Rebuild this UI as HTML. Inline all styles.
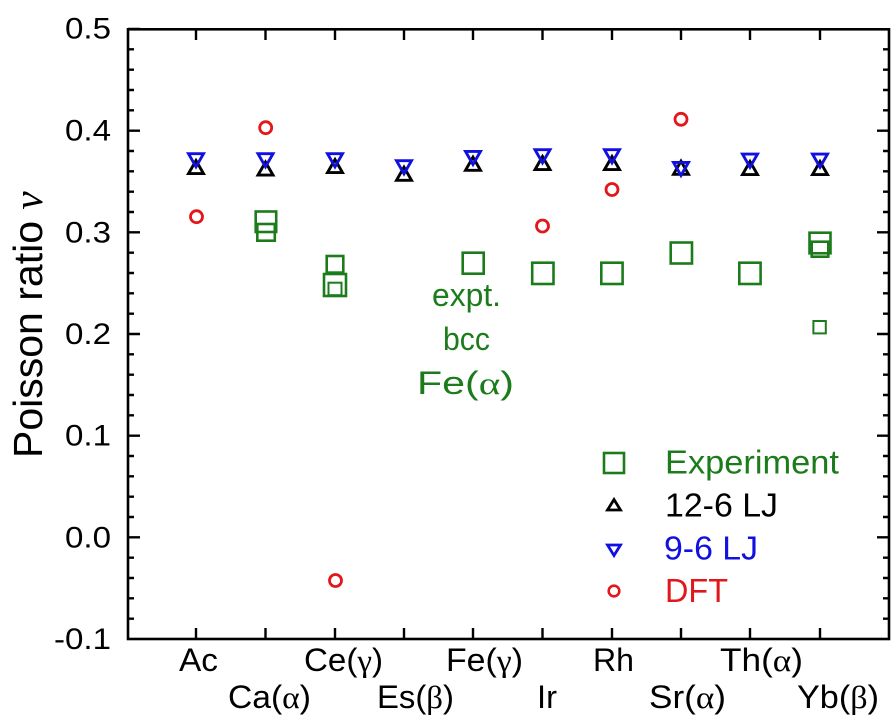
<!DOCTYPE html>
<html>
<head>
<meta charset="utf-8">
<style>
html,body{margin:0;padding:0;background:#fff;}
svg{display:block;}
text{font-family:"Liberation Sans",Arial,sans-serif;}
.g{font-family:"Liberation Serif",serif;}
</style>
</head>
<body>
<svg width="891" height="717" viewBox="0 0 891 717" xmlns="http://www.w3.org/2000/svg">
<rect width="891" height="717" fill="#fff"/>

<!-- axes frame -->
<rect x="128" y="29.3" width="761" height="609.7" fill="none" stroke="#000" stroke-width="2.6"/>

<!-- left ticks -->
<path stroke="#000" stroke-width="2.4" fill="none" d="
M128 29h12 M128 49.33h6 M128 69.67h6 M128 90h6 M128 110.33h6
M128 130.67h12 M128 151h6 M128 171.33h6 M128 191.67h6 M128 212h6
M128 232.33h12 M128 252.67h6 M128 273h6 M128 293.33h6 M128 313.67h6
M128 334h12 M128 354.33h6 M128 374.67h6 M128 395h6 M128 415.33h6
M128 435.67h12 M128 456h6 M128 476.33h6 M128 496.67h6 M128 517h6
M128 537.33h12 M128 557.67h6 M128 578h6 M128 598.33h6 M128 618.67h6
"/>
<!-- right ticks -->
<path stroke="#000" stroke-width="2.4" fill="none" d="
M889 49.33h-6 M889 69.67h-6 M889 90h-6 M889 110.33h-6
M889 130.67h-12 M889 151h-6 M889 171.33h-6 M889 191.67h-6 M889 212h-6
M889 232.33h-12 M889 252.67h-6 M889 273h-6 M889 293.33h-6 M889 313.67h-6
M889 334h-12 M889 354.33h-6 M889 374.67h-6 M889 395h-6 M889 415.33h-6
M889 435.67h-12 M889 456h-6 M889 476.33h-6 M889 496.67h-6 M889 517h-6
M889 537.33h-12 M889 557.67h-6 M889 578h-6 M889 598.33h-6 M889 618.67h-6
"/>
<!-- top & bottom ticks -->
<path stroke="#000" stroke-width="2.4" fill="none" d="
M196 29v11 M265.5 29v11 M335 29v11 M404 29v11 M473 29v11 M542.5 29v11 M612 29v11 M681 29v11 M750 29v11 M820 29v11
M196 639v-11 M265.5 639v-11 M335 639v-11 M404 639v-11 M473 639v-11 M542.5 639v-11 M612 639v-11 M681 639v-11 M750 639v-11 M820 639v-11
"/>

<!-- y tick labels -->
<g font-size="30" fill="#000" text-anchor="end">
<text x="111" y="38.5" textLength="46" lengthAdjust="spacingAndGlyphs">0.5</text>
<text x="111" y="140.5" textLength="46" lengthAdjust="spacingAndGlyphs">0.4</text>
<text x="111" y="242.3" textLength="46" lengthAdjust="spacingAndGlyphs">0.3</text>
<text x="111" y="344" textLength="46" lengthAdjust="spacingAndGlyphs">0.2</text>
<text x="111" y="445.7" textLength="46" lengthAdjust="spacingAndGlyphs">0.1</text>
<text x="111" y="547.3" textLength="46" lengthAdjust="spacingAndGlyphs">0.0</text>
<text x="111" y="649" textLength="57" lengthAdjust="spacingAndGlyphs">-0.1</text>
</g>

<!-- y axis label -->
<text transform="translate(42,458) rotate(-90)" font-size="41" fill="#000">Poisson ratio <tspan class="g" font-style="italic">ν</tspan></text>

<!-- x tick labels -->
<g font-size="32" fill="#000">
<text x="179" y="671" textLength="39" lengthAdjust="spacingAndGlyphs">Ac</text>
<text x="304" y="671" textLength="79" lengthAdjust="spacingAndGlyphs">Ce(<tspan class="g">γ</tspan>)</text>
<text x="446" y="671" textLength="77" lengthAdjust="spacingAndGlyphs">Fe(<tspan class="g">γ</tspan>)</text>
<text x="593" y="671" textLength="41" lengthAdjust="spacingAndGlyphs">Rh</text>
<text x="720" y="671" textLength="83" lengthAdjust="spacingAndGlyphs">Th(<tspan class="g">α</tspan>)</text>
<text x="228" y="708" textLength="83" lengthAdjust="spacingAndGlyphs">Ca(<tspan class="g">α</tspan>)</text>
<text x="377" y="708" textLength="77" lengthAdjust="spacingAndGlyphs">Es(<tspan class="g">β</tspan>)</text>
<text x="537" y="708" textLength="20" lengthAdjust="spacingAndGlyphs">Ir</text>
<text x="649" y="708" textLength="77" lengthAdjust="spacingAndGlyphs">Sr(<tspan class="g">α</tspan>)</text>
<text x="797" y="708" textLength="82" lengthAdjust="spacingAndGlyphs">Yb(<tspan class="g">β</tspan>)</text>
</g>

<!-- Experiment squares -->
<g fill="none" stroke="#1c7c1c" stroke-width="2.6">
<rect x="255.7" y="211.5" width="20.5" height="20.5"/>
<rect x="257.3" y="224" width="17.5" height="16.7"/>
<rect x="326.7" y="256" width="16.6" height="16.6"/>
<rect x="324" y="274" width="22" height="22"/>
<rect x="328.5" y="282.7" width="13" height="12.5" stroke-width="2"/>
<rect x="462.7" y="252.7" width="21" height="21"/>
<rect x="532.2" y="262.7" width="21.3" height="21.3"/>
<rect x="601.3" y="262.7" width="21.3" height="21.3"/>
<rect x="670.7" y="242.5" width="21.3" height="21"/>
<rect x="739.3" y="262.7" width="21.3" height="21.3"/>
<rect x="809.5" y="232.7" width="21" height="20.6"/>
<rect x="811.7" y="241.7" width="16.6" height="15"/>
<rect x="813.4" y="321" width="12.4" height="12.4" stroke-width="2"/>
</g>

<!-- 12-6 LJ (black up triangles) -->
<g fill="none" stroke="#000" stroke-width="2.9" stroke-linejoin="miter">
<path d="M188.5 173.6H203.5L196 160.5Z"/>
<path d="M258 175.1H273L265.5 162Z"/>
<path d="M327.5 172.6H342.5L335 159.5Z"/>
<path d="M396.5 180.3H411.5L404 167.2Z"/>
<path d="M465.5 170.3H480.5L473 157.2Z"/>
<path d="M535 169.6H550L542.5 156.5Z"/>
<path d="M604.5 169.6H619.5L612 156.5Z"/>
<path d="M673.5 174.3H688.5L681 161.2Z"/>
<path d="M742.5 174.6H757.5L750 161.5Z"/>
<path d="M812.5 174.6H827.5L820 161.5Z"/>
</g>

<!-- 9-6 LJ (blue down triangles) -->
<g fill="none" stroke="#1010e0" stroke-width="2.9" stroke-linejoin="miter">
<path d="M188.5 153.7H203.5L196 166.8Z"/>
<path d="M258 153.7H273L265.5 166.8Z"/>
<path d="M327.5 153.7H342.5L335 166.8Z"/>
<path d="M396.5 160.7H411.5L404 173.8Z"/>
<path d="M465.5 151.4H480.5L473 164.5Z"/>
<path d="M535 149.7H550L542.5 162.8Z"/>
<path d="M604.5 149.7H619.5L612 162.8Z"/>
<path d="M673.5 162.4H688.5L681 175.5Z"/>
<path d="M742.5 154.1H757.5L750 167.2Z"/>
<path d="M812.5 154.1H827.5L820 167.2Z"/>
</g>

<!-- DFT circles -->
<g fill="none" stroke="#e3161b" stroke-width="2.8">
<circle cx="196.5" cy="216.7" r="6"/>
<circle cx="265.7" cy="127.7" r="6"/>
<circle cx="335.5" cy="580.5" r="6"/>
<circle cx="542.5" cy="226" r="6"/>
<circle cx="612" cy="189.5" r="6"/>
<circle cx="681" cy="119.3" r="6"/>
</g>

<!-- annotation -->
<g font-size="32" fill="#1c7c1c">
<text x="432" y="306" textLength="69" lengthAdjust="spacingAndGlyphs">expt.</text>
<text x="443" y="350" textLength="47" lengthAdjust="spacingAndGlyphs">bcc</text>
<text x="417" y="394" textLength="97" lengthAdjust="spacingAndGlyphs">Fe(<tspan class="g">α</tspan>)</text>
</g>

<!-- legend -->
<rect x="604" y="453" width="20" height="20" fill="none" stroke="#1c7c1c" stroke-width="2.6"/>
<path d="M607.5 510H620.5L614 499.5Z" fill="none" stroke="#000" stroke-width="2.8"/>
<path d="M607.5 545H620.5L614 555.5Z" fill="none" stroke="#1010e0" stroke-width="2.8"/>
<circle cx="614" cy="591" r="5.3" fill="none" stroke="#e3161b" stroke-width="2.6"/>
<g font-size="33.5">
<text x="665" y="473.5" fill="#1c7c1c" textLength="174" lengthAdjust="spacingAndGlyphs">Experiment</text>
<text x="665" y="516.5" fill="#000" textLength="113" lengthAdjust="spacingAndGlyphs">12-6 LJ</text>
<text x="664" y="559.5" fill="#1010e0" textLength="94" lengthAdjust="spacingAndGlyphs">9-6 LJ</text>
<text x="665" y="602" fill="#e3161b" textLength="63" lengthAdjust="spacingAndGlyphs">DFT</text>
</g>
</svg>
</body>
</html>
